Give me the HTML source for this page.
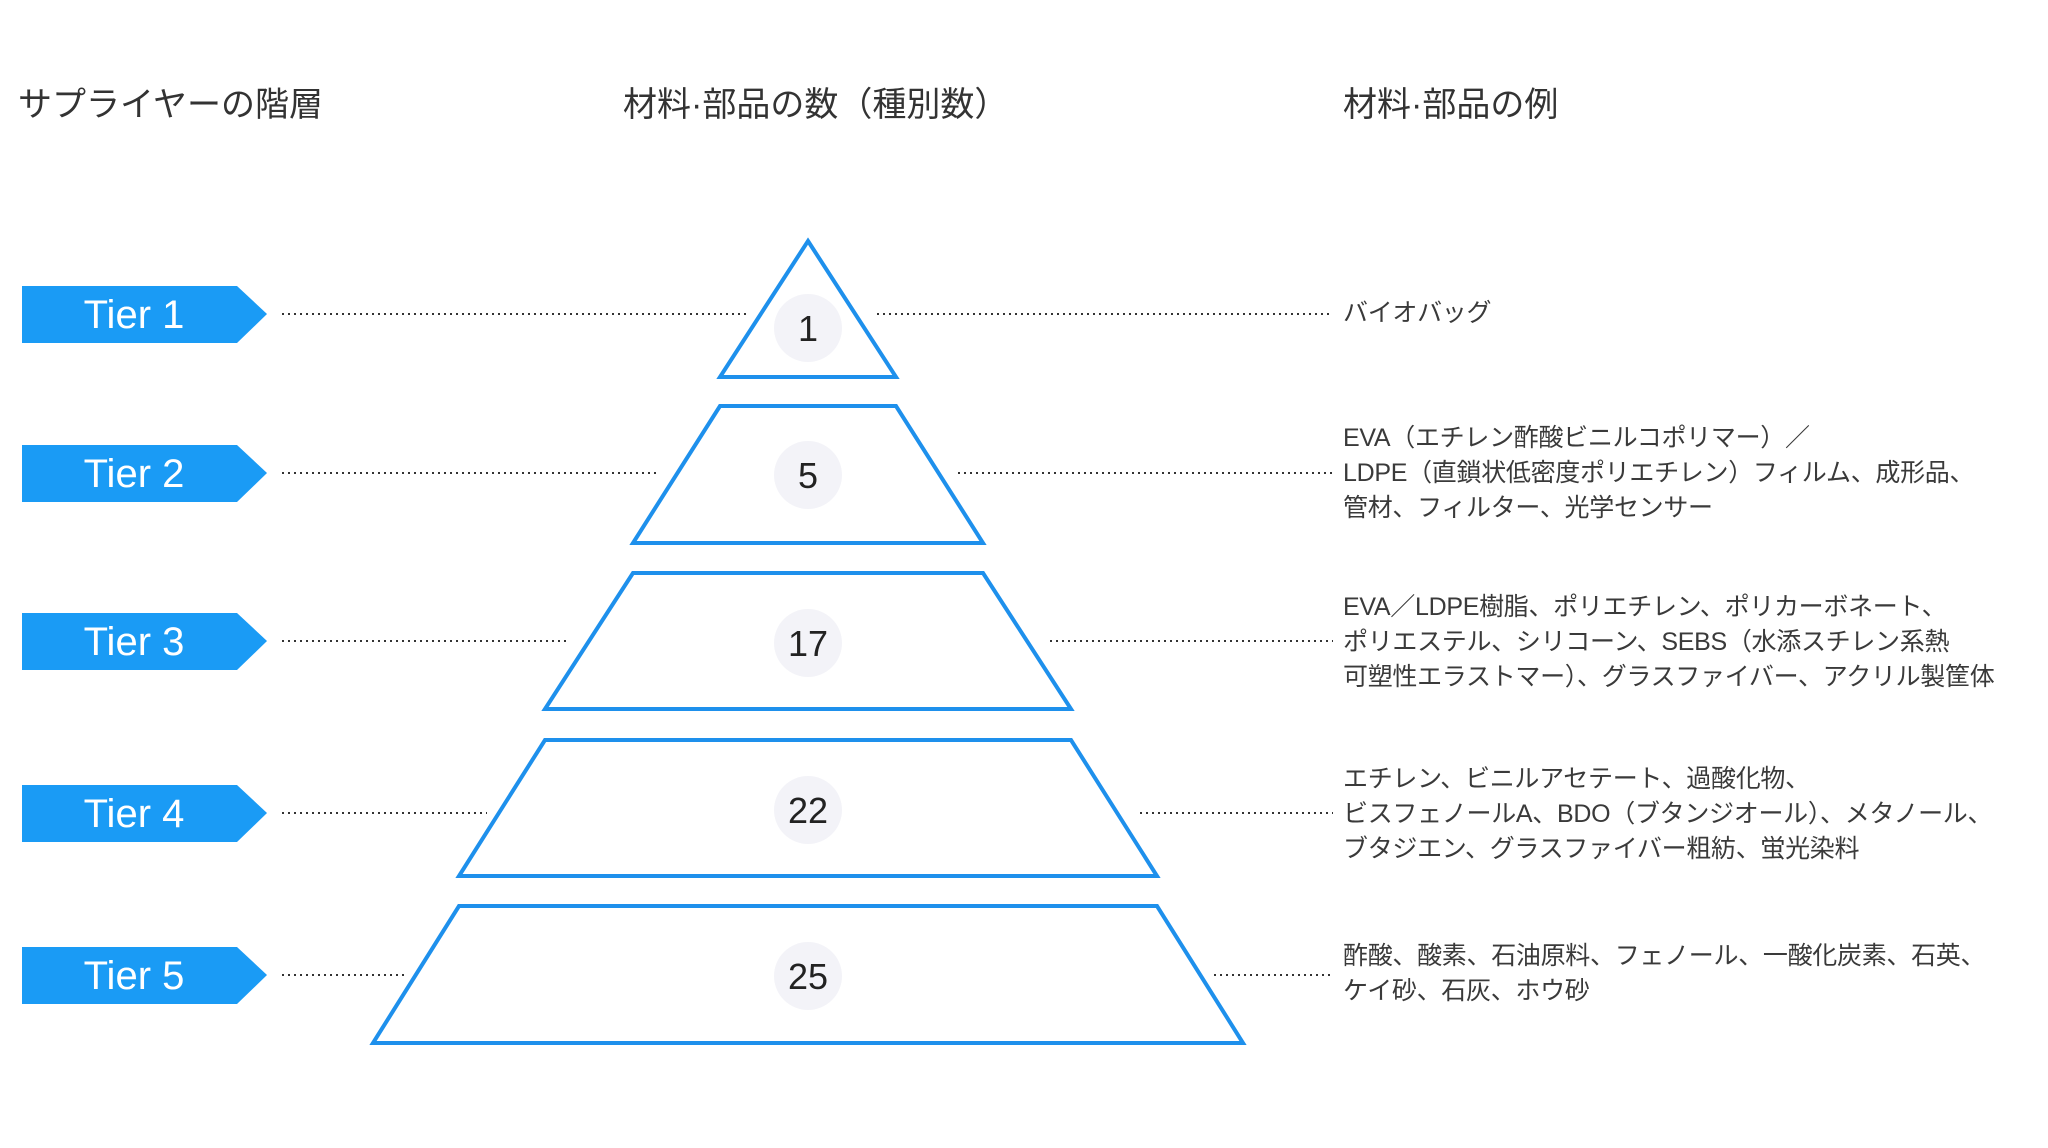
<!DOCTYPE html>
<html><head><meta charset="utf-8"><style>
body{margin:0;width:2048px;height:1148px;background:#fff;position:relative;overflow:hidden;font-family:"Liberation Sans","Noto Sans CJK JP",sans-serif;color:#333}
.h{position:absolute;top:84px;font-size:34px;line-height:42px;color:#333;white-space:nowrap}
.t{position:absolute;left:1343px;font-size:25px;line-height:35px;white-space:nowrap;color:#3a3a3a;letter-spacing:-0.3px}
</style></head><body>
<div class="h" style="left:18px">サプライヤーの階層</div>
<div class="h" style="left:623px">材料·部品の数（種別数）</div>
<div class="h" style="left:1343px">材料·部品の例</div>
<svg width="2048" height="1148" style="position:absolute;left:0;top:0">
<g fill="#1a9bf5">
<polygon points="22,286 237,286 267,314 237,343 22,343"/>
<polygon points="22,445 237,445 267,473 237,502 22,502"/>
<polygon points="22,613 237,613 267,641 237,670 22,670"/>
<polygon points="22,785 237,785 267,813 237,842 22,842"/>
<polygon points="22,947 237,947 267,975 237,1004 22,1004"/>
</g>
<g fill="#fff" font-size="40" text-anchor="middle" font-family="Liberation Sans, sans-serif">
<text x="134" y="328">Tier 1</text><text x="134" y="487">Tier 2</text><text x="134" y="655">Tier 3</text><text x="134" y="827">Tier 4</text><text x="134" y="989">Tier 5</text>
</g>
<g stroke="#333" stroke-width="2" stroke-dasharray="2,4">
<line x1="282" y1="314" x2="748" y2="314"/><line x1="877" y1="314" x2="1333" y2="314"/>
<line x1="282" y1="473" x2="659" y2="473"/><line x1="958" y1="473" x2="1333" y2="473"/>
<line x1="282" y1="641" x2="570" y2="641"/><line x1="1050" y1="641" x2="1333" y2="641"/>
<line x1="282" y1="813" x2="487" y2="813"/><line x1="1140" y1="813" x2="1333" y2="813"/>
<line x1="282" y1="975" x2="404" y2="975"/><line x1="1214" y1="975" x2="1333" y2="975"/>
</g>
<g fill="none" stroke="#1e90ec" stroke-width="4">
<polygon points="808,241 896,377 720,377"/>
<polygon points="720,406 896,406 983,543 633,543"/>
<polygon points="633,573 983,573 1071,709 545,709"/>
<polygon points="545,740 1071,740 1157,876 459,876"/>
<polygon points="459,906 1157,906 1243,1043 373,1043"/>
</g>
<g fill="#f3f3f8"><circle cx="808" cy="328" r="34"/><circle cx="808" cy="475" r="34"/><circle cx="808" cy="643" r="34"/><circle cx="808" cy="810" r="34"/><circle cx="808" cy="976" r="34"/></g>
<g fill="#222" font-size="36" text-anchor="middle" font-family="Liberation Sans, sans-serif">
<text x="808" y="341">1</text><text x="808" y="488">5</text><text x="808" y="656">17</text><text x="808" y="823">22</text><text x="808" y="989">25</text>
</g>
</svg>
<div class="t" style="top:296px">バイオバッグ</div>
<div class="t" style="top:421px">EVA（エチレン酢酸ビニルコポリマー）／<br>LDPE（直鎖状低密度ポリエチレン）フィルム、成形品、<br>管材、フィルター、光学センサー</div>
<div class="t" style="top:590px">EVA／LDPE樹脂、ポリエチレン、ポリカーボネート、<br>ポリエステル、シリコーン、SEBS（水添スチレン系熱<br>可塑性エラストマー）、グラスファイバー、アクリル製筐体</div>
<div class="t" style="top:762px">エチレン、ビニルアセテート、過酸化物、<br>ビスフェノールA、BDO（ブタンジオール）、メタノール、<br>ブタジエン、グラスファイバー粗紡、蛍光染料</div>
<div class="t" style="top:939px">酢酸、酸素、石油原料、フェノール、一酸化炭素、石英、<br>ケイ砂、石灰、ホウ砂</div>
</body></html>
